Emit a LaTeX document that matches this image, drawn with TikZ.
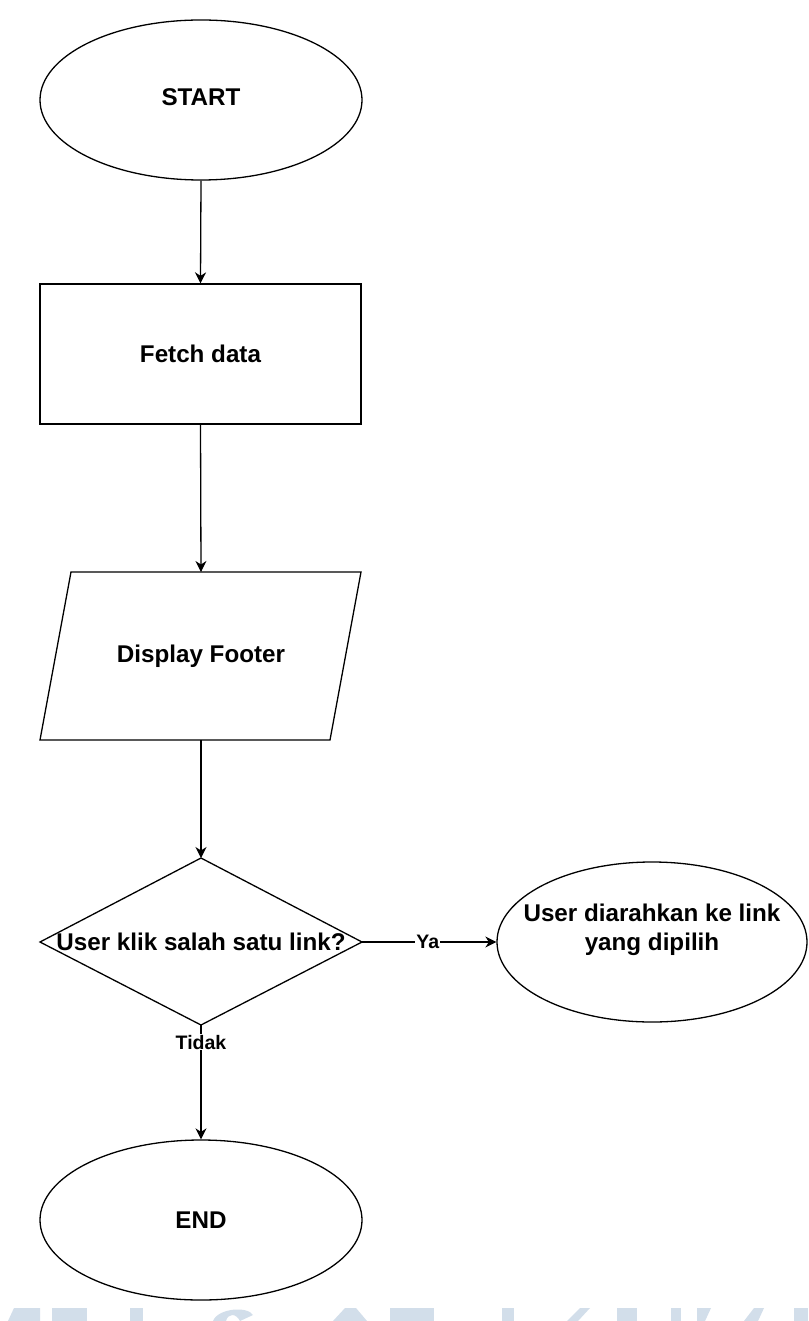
\documentclass[tikz,border=0pt]{standalone}
\usepackage{fontspec}
\setmainfont{Liberation Sans}
\usetikzlibrary{shapes.geometric,arrows.meta}
\definecolor{wmark}{HTML}{D2DEEA}
\tikzset{
  box/.style={draw,line width=1.3pt,fill=white},
  lbl/.style={font=\fontsize{24.2}{29}\selectfont\bfseries,align=center},
  flow/.style={line width=1.3pt,-{Stealth[length=11pt,width=11pt,inset=3.5pt]}},
  edgelbl/.style={font=\fontsize{19.5}{23}\selectfont\bfseries,fill=white,inner sep=1pt}
}
\begin{document}
\begin{tikzpicture}[x=1pt,y=-1pt]
\useasboundingbox (0,0) rectangle (808,1321);
\fill[white] (0,0) rectangle (808,1321);

% faint band of large letter tops along the lower edge
\begin{scope}[fill=wmark]
  \fill (8,1321) -- (14,1308) -- (40,1308) -- (40,1321) -- cycle;
  \fill (52,1308) rectangle (87,1321);
  \fill (130,1308) rectangle (143,1321);
  \fill (213,1321) .. controls (218,1308) and (248,1306) .. (253,1315) -- (240,1321) .. controls (236,1313) and (228,1313) .. (226,1321) -- cycle;
  \fill (333,1321) -- (345,1308) -- (356,1308) -- (367,1321) -- cycle;
  \fill (390,1308) rectangle (434,1321);
  \fill (502,1308) rectangle (514,1321);
  \fill (567,1321) -- (580,1308) -- (590,1308) -- (578,1321) -- cycle;
  \fill (617,1308) rectangle (637,1321);
  \fill (671,1308) rectangle (681,1321);
  \fill (697,1308) -- (711,1308) -- (705,1321) -- (697,1321) -- cycle;
  \fill (744,1321) -- (754,1308) -- (764,1308) -- (758,1321) -- cycle;
  \fill (794,1308) rectangle (808,1321);
\end{scope}

% start terminator
\node[box,ellipse,minimum width=322pt,minimum height=160pt,inner sep=0pt] (start) at (201,100) {};
\node[lbl] (starttxt) at (201,97) {START};

% process step
\node[box,rectangle,minimum width=321pt,minimum height=140pt,inner sep=0pt] (fetch) at (200.5,354) {};
\node[lbl] (fetchtxt) at (200.5,354) {Fetch data};

% output step (parallelogram)
\coordinate (pTL) at (71,572);
\coordinate (pTR) at (361,572);
\coordinate (pBR) at (330,740);
\coordinate (pBL) at (40,740);
\draw[line width=1.3pt,fill=white] (pTL) -- (pTR) -- (pBR) -- (pBL) -- cycle;
\coordinate (dispTop) at (201,572);
\coordinate (dispBot) at (201,740);
\node[lbl] (disptxt) at (201,656) {Display Footer};

% decision
\coordinate (dT) at (201,858);
\coordinate (dR) at (362,942);
\coordinate (dB) at (201,1025);
\coordinate (dL) at (40,942);
\draw[line width=1.3pt,fill=white] (dT) -- (dR) -- (dB) -- (dL) -- cycle;
\node[lbl] (dectxt) at (201,942) {User klik salah satu link?};

% redirect terminator
\node[box,ellipse,minimum width=310pt,minimum height=160pt,inner sep=0pt] (redir) at (652,942) {};
\node[lbl] (redirtxt) at (652,930) {User diarahkan ke link\\yang dipilih};

% end terminator
\node[box,ellipse,minimum width=322pt,minimum height=160pt,inner sep=0pt] (endn) at (201,1220) {};
\node[lbl] (endtxt) at (201,1220) {END};

% connectors
\draw[flow] (start.south) -- (fetch.north);
\draw[flow] (fetch.south) -- (dispTop);
\draw[flow] (dispBot) -- (dT);
\draw[flow] (dR) -- node[edgelbl,pos=0.49] {Ya} (redir.west);
\draw[flow] (dB) -- node[edgelbl,pos=0.15] {Tidak} (endn.north);
\end{tikzpicture}
\end{document}
